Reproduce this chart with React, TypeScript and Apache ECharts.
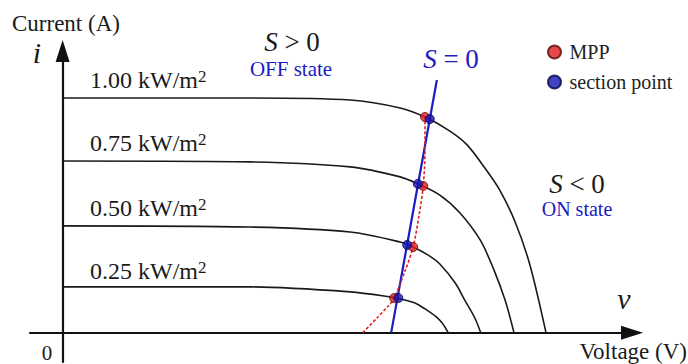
import React, { useEffect, useRef } from "react";
import * as echarts from "echarts";

// Irradiance levels of the four I–V curves (kW/m²)
const irradianceLevels = ["1.00", "0.75", "0.50", "0.25"];

// I–V curves as [voltage, current] pairs, one per irradiance level
const curve100: [number, number][] = [
  [0, 80.0], [31.6, 80.0], [48.5, 79.3], [56.9, 76.6], [61.1, 73.5], [65.3, 68.7],
  [68.2, 64.0], [71.2, 56.1], [73.7, 48.6], [76.3, 37.7], [78.8, 23.0], [81.5, 0],
];
const curve075: [number, number][] = [
  [0, 58.5], [31.6, 58.2], [48.5, 56.5], [56.9, 53.1], [59.9, 50.7], [63.6, 46.9],
  [67.0, 40.8], [70.4, 31.6], [72.6, 22.0], [74.6, 11.1], [76.1, 0],
];
const curve050: [number, number][] = [
  [0, 36.4], [31.6, 36.0], [48.5, 34.3], [56.9, 30.9], [59.1, 29.2], [61.9, 26.1],
  [63.6, 23.4], [66.2, 16.9], [67.8, 11.1], [69.5, 5.0], [70.5, 0],
];
const curve025: [number, number][] = [
  [0, 15.6], [31.6, 15.6], [48.5, 13.9], [55.2, 12.2], [56.9, 11.5], [59.4, 10.1],
  [61.1, 8.1], [62.8, 5.7], [64.0, 3.3], [65.0, 0],
];
const ivCurves = [curve100, curve075, curve050, curve025];

// Maximum power points and the points where the S = 0 line cuts each curve
const mppPoints: [number, number][] = [[61.1, 73.5], [60.8, 50.0], [59.1, 29.2], [55.9, 11.8]];
const sectionPoints: [number, number][] = [[61.9, 72.8], [59.9, 50.7], [58.1, 29.9], [56.6, 11.8]];

// Locus of the maximum power points
const mppLocus: [number, number][] = [
  [50.6, 0], [53.0, 5.0], [54.9, 9.1], [55.9, 11.8], [57.8, 21.4], [59.1, 29.2],
  [60.1, 40.1], [60.8, 50.0], [61.1, 62.2], [61.1, 73.5],
];

// Switching surface S = 0
const switchingLine: [number, number][] = [[55.4, 0], [63.1, 86.1]];

const FONT = '"Liberation Serif", "Times New Roman", serif';
const INK = "#1a1a1a";
const BLUE = "#1c1cc0";

const labelTops = [80, 143, 208, 271];

function sLabel(x: number, y: number, rel: string, color: string) {
  return {
    type: "text",
    x,
    y,
    style: {
      text: `{i|S}{n| ${rel} 0}`,
      align: "center",
      verticalAlign: "middle",
      rich: {
        i: { fontSize: 27, fontFamily: FONT, fontStyle: "italic", fill: color },
        n: { fontSize: 27, fontFamily: FONT, fill: color },
      },
    },
  };
}

export default function App() {
  const ref = useRef<HTMLDivElement>(null);

  useEffect(() => {
    if (!ref.current) return;
    const chart = echarts.init(ref.current, undefined, { renderer: "svg" });

    const axisCommon = {
      type: "value" as const,
      axisLine: {
        onZero: true,
        lineStyle: { color: "#111", width: 2.2 },
        symbol: ["none", "triangle"],
        symbolSize: [14, 22],
      },
      axisTick: { show: false },
      axisLabel: { show: false },
      splitLine: { show: false },
    };

    const curveSeries = ivCurves.map((data, idx) => ({
      name: irradianceLevels[idx],
      type: "line" as const,
      data,
      showSymbol: false,
      smooth: 0.3,
      silent: true,
      lineStyle: { color: INK, width: 1.6 },
      z: 2,
    }));

    const irradianceTexts = irradianceLevels.map((lvl, idx) => ({
      type: "text",
      x: 90,
      y: labelTops[idx],
      style: {
        text: `{b|${lvl} kW/m}{s|2}`,
        verticalAlign: "middle",
        align: "left",
        rich: {
          b: { fontSize: 24, fontFamily: FONT, fill: INK, lineHeight: 24 },
          s: { fontSize: 17, fontFamily: FONT, fill: INK, lineHeight: 24, verticalAlign: "top" },
        },
      },
    }));

    chart.setOption({
      animation: false,
      grid: { left: 30, right: 56, top: 51, bottom: 2 },
      xAxis: { ...axisCommon, min: -5.5, max: 96 },
      yAxis: { ...axisCommon, min: -10, max: 96 },
      legend: {
        data: ["MPP", "section point"],
        orient: "vertical",
        left: 542,
        top: 37,
        itemWidth: 20,
        itemHeight: 13,
        itemGap: 10,
        icon: "circle",
        textStyle: { fontSize: 20, fontFamily: FONT, color: "#222" },
      },
      series: [
        ...curveSeries,
        {
          name: "S = 0",
          type: "line",
          data: switchingLine,
          showSymbol: false,
          silent: true,
          lineStyle: { color: BLUE, width: 2.2 },
          z: 3,
        },
        {
          name: "MPP locus",
          type: "line",
          data: mppLocus,
          showSymbol: false,
          smooth: 0.3,
          silent: true,
          lineStyle: { color: "#e02020", width: 1.6, type: [3, 2] },
          z: 4,
        },
        {
          name: "MPP",
          type: "scatter",
          data: mppPoints,
          symbol: "circle",
          symbolSize: 9,
          silent: true,
          itemStyle: { color: "#e01c1c", borderColor: "#5a0a0a", borderWidth: 1 },
          z: 5,
        },
        {
          name: "section point",
          type: "scatter",
          data: sectionPoints,
          symbol: "circle",
          symbolSize: 9,
          silent: true,
          itemStyle: { color: "#1414b4", borderColor: "#08084a", borderWidth: 1 },
          z: 6,
        },
      ],
      graphic: [
        {
          type: "text",
          x: 12,
          y: 23,
          style: { text: "Current (A)", font: `23px ${FONT}`, fill: INK, verticalAlign: "middle" },
        },
        {
          type: "text",
          x: 37,
          y: 52,
          style: { text: "i", font: `italic 30px ${FONT}`, fill: INK, align: "center", verticalAlign: "middle" },
        },
        {
          type: "text",
          x: 624,
          y: 298,
          style: { text: "v", font: `italic 30px ${FONT}`, fill: INK, align: "center", verticalAlign: "middle" },
        },
        {
          type: "text",
          x: 687,
          y: 351,
          style: { text: "Voltage (V)", font: `23px ${FONT}`, fill: INK, align: "right", verticalAlign: "middle" },
        },
        {
          type: "text",
          x: 47,
          y: 353,
          style: { text: "0", font: `21px ${FONT}`, fill: INK, align: "center", verticalAlign: "middle" },
        },
        ...irradianceTexts,
        sLabel(292, 42, ">", INK),
        {
          type: "text",
          x: 291,
          y: 69,
          style: { text: "OFF state", font: `21px ${FONT}`, fill: BLUE, align: "center", verticalAlign: "middle" },
        },
        sLabel(451, 59, "=", BLUE),
        sLabel(577, 184, "<", INK),
        {
          type: "text",
          x: 577,
          y: 209,
          style: { text: "ON state", font: `20px ${FONT}`, fill: BLUE, align: "center", verticalAlign: "middle" },
        },
      ],
    });

    return () => chart.dispose();
  }, []);

  return (
    <div
      ref={ref}
      style={{ position: "fixed", left: 0, top: 0, width: 688, height: 364, background: "#fff" }}
    />
  );
}
